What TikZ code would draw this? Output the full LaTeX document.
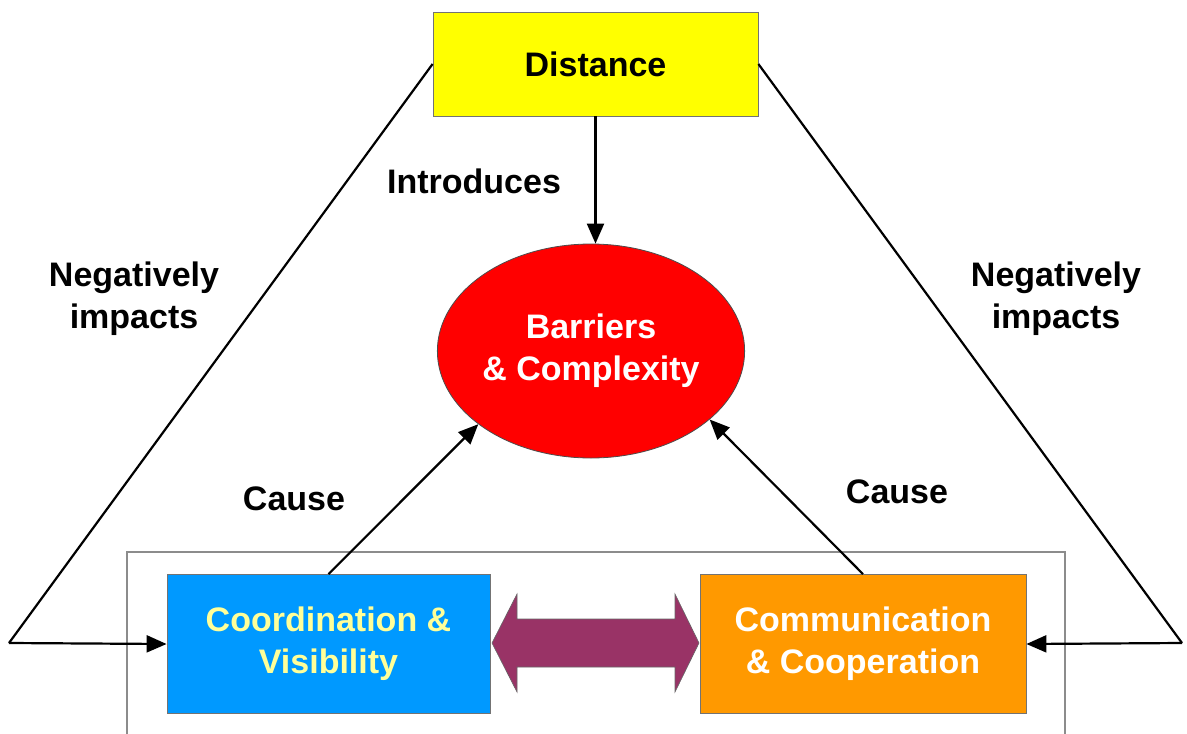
\documentclass[tikz,border=0pt]{standalone}
\usepackage{fontspec}
\setmainfont{Liberation Sans}
\usetikzlibrary{arrows.meta,shapes.geometric}
\definecolor{cyel}{HTML}{FFFF00}
\definecolor{cred}{HTML}{FF0000}
\definecolor{cblue}{HTML}{0099FF}
\definecolor{corange}{HTML}{FF9900}
\definecolor{cpurple}{HTML}{993366}
\definecolor{ctext}{HTML}{FFFF99}
\definecolor{cframe}{HTML}{8C8C8C}
\begin{document}
\begin{tikzpicture}[x=1pt,y=-1pt,
  txt/.style={font=\fontsize{34}{42}\selectfont\bfseries, align=center, inner sep=0pt},
  boxnode/.style={txt, rectangle, draw=black!55, line width=0.8pt, minimum width=#1, minimum height=139pt},
  conn/.style={line width=2.2pt, draw=black, -{Triangle[length=20pt,width=17pt]}},
  plain/.style={line width=2.2pt, draw=black}
]
\useasboundingbox (0,0) rectangle (1187,734);
% group frame
\draw[cframe, line width=1.5pt] (127,734) -- (127,552) -- (1065,552) -- (1065,734);

\node[txt, rectangle, draw=black!55, line width=0.8pt, fill=cyel, minimum width=325pt, minimum height=104pt] (dist) at (595.5,64) {Distance};
\node[txt, ellipse, draw=black!70, line width=0.8pt, fill=cred, text=white, minimum width=304pt, minimum height=214pt] (bar) at (591,351) {Barriers\\\& Complexity};
\node[boxnode=323pt, fill=cblue, text=ctext] (coord) at (328.5,644) {\raisebox{-3pt}{\begin{tabular}{@{}c@{}}Coordination \&\\Visibility\end{tabular}}};
\node[boxnode=326pt, fill=corange, text=white] (comm) at (863,644) {\raisebox{-3pt}{\begin{tabular}{@{}c@{}}Communication\\\& Cooperation\end{tabular}}};

% double arrow
\fill[cpurple, draw=black!60, line width=0.6pt] (492,643) -- (517,594) -- (517,619) -- (675,619) -- (675,594) -- (699,643) -- (675,692) -- (675,667) -- (517,667) -- (517,692) -- cycle;

% connectors
\coordinate (lc) at (9,643);
\coordinate (rc) at (1182,643);
\draw[conn] (dist.south) -- (dist.south |- bar.north);
\draw[plain] (dist.west) -- (lc);
\draw[conn] (lc) -- (coord.west);
\draw[plain] (dist.east) -- (rc);
\draw[conn] (rc) -- (comm.east);
\draw[conn] (coord.north) -- (bar.213.5);
\draw[conn] (comm.north) -- (bar.330);

% labels
\node[txt] (lintro) at (474,181) {Introduces};
\node[txt] (lnegl) at (134,299) {Negatively\\impacts};
\node[txt] (lnegr) at (1056,299) {Negatively\\impacts};
\node[txt] (lcausel) at (294,499) {Cause};
\node[txt] (lcauser) at (897,492) {Cause};
\end{tikzpicture}
\end{document}
